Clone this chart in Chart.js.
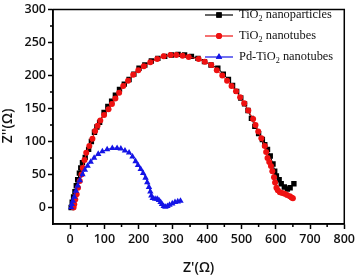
<!DOCTYPE html>
<html><head><meta charset="utf-8">
<script src="https://cdn.jsdelivr.net/npm/chart.js@4/dist/chart.umd.min.js"></script>
<style>html,body{margin:0;padding:0;background:#fff}#wrap{width:358px;height:276px}</style>
</head><body><div id="wrap"><canvas id="c" width="358" height="276"></canvas></div>
<script>
const seriesNames = ["TiO2 nanoparticles", "TiO2 nanotubes", "Pd-TiO2 nanotubes"];
const xTicks = [0,100,200,300,400,500,600,700,800];
const yTicks = [0,50,100,150,200,250,300];
const particlesX = [3,6,10,14,18,22,27,31,36,44,54,62,71,78,86,99,110,121,132,144,158,172,186,201,218,237,256,276,296,315,334,354,373,392,411,431,447,462,474,486,498,509,519,529,539,550,561,568,576,584,592,597,602,610,616,625,634,642,653];
const particlesY = [0,8,16,24,33,42,52,60,68,76,88,100,114,122,129,144,153,161,170,179,187,194,202,211,216,222,226,229,231,232,231,229,226,221,216,211,202,194,185,176,166,157,147,135,123,112,103,95,88,78,66,55,48,42,36,31,28,30,36];
const tubesX = [10,12,15,19,23,28,33,37,42,47,56,65,73,80,88,99,112,122,132,143,155,169,184,199,215,234,254,273,293,310,328,346,375,393,412,428,444,458,471,484,496,508,520,534,541,549,558,568,572,576,581,586,590,595,598,602,606,612,619,626,633,641,646,650];
const tubesY = [0,5,12,20,30,40,50,60,72,83,93,104,116,124,132,140,149,157,165,174,184,192,201,208,214,220,225,229,231,231,230,228,225,221,216,208,200,192,184,176,167,158,147,134,125,115,105,93,84,75,69,63,55,46,38,30,26,23,22,21,19,17,15,14];
const pdX = [3,5,8,12,17,22,28,36,43,51,60,70,82,94,108,123,137,148,160,172,182,191,198,206,213,220,225,230,234,237,241,248,254,259,264,268,273,278,284,290,298,306,314,322];
const pdY = [0,5,10,16,25,33,41,50,57,63,69,75,81,85,88,90,90,89,86,83,77,70,64,58,52,45,38,31,24,18,14,13,13,11,8,5,2,1,2,4,6,8,9,10];

const pts = (xs, ys) => xs.map((x, i) => ({x: x, y: ys[i]}));
const colors = ['#000000', '#ee1111', '#1414e6'];
const styles = ['rect', 'circle', 'triangle'];
const radii = [3.8, 3.0, 3.7];

const frameAndTicks = {
  id: 'frameAndTicks',
  afterDatasetsDraw(chart) {
    const {ctx, chartArea: a, scales: {x, y}} = chart;
    ctx.save();
    ctx.strokeStyle = '#000';
    ctx.lineWidth = 1.5;
    ctx.beginPath();
    for (let i = 0; i < xTicks.length - 1; i++) {
      const px = x.getPixelForValue((xTicks[i] + xTicks[i+1]) / 2);
      ctx.moveTo(px, a.bottom); ctx.lineTo(px, a.bottom + 3);
    }
    for (let i = 0; i < yTicks.length - 1; i++) {
      const py = y.getPixelForValue((yTicks[i] + yTicks[i+1]) / 2);
      ctx.moveTo(a.left, py); ctx.lineTo(a.left - 3, py);
    }
    ctx.stroke();
    ctx.strokeRect(a.left, a.top, a.right - a.left, a.bottom - a.top);
    // y axis title
    ctx.save();
    ctx.translate(8, 126);
    ctx.rotate(-Math.PI / 2);
    ctx.fillStyle = '#111';
    ctx.textAlign = 'center';
    ctx.textBaseline = 'middle';
    ctx.font = '600 14px "Open Sans"';
    ctx.fillText("Z''(Ω)", 0, 0);
    ctx.restore();
    // legend
    const ds = chart.data.datasets;
    const rows = [15, 36, 57];
    const big = 12.4, small = 8.2;
    ds.forEach((d, i) => {
      const yy = rows[i];
      ctx.strokeStyle = d.borderColor;
      ctx.lineWidth = 1.2;
      ctx.beginPath(); ctx.moveTo(205, yy); ctx.lineTo(233, yy); ctx.stroke();
      ctx.fillStyle = d.borderColor;
      Chart.helpers.drawPoint(ctx, {pointStyle: d.pointStyle, radius: d.pointRadius, borderWidth: 0}, 219, yy);
      ctx.fill();
      const name = seriesNames[i];
      const idx = name.indexOf('2');
      const pre = name.slice(0, idx), post = name.slice(idx + 1);
      ctx.fillStyle = '#111';
      ctx.textBaseline = 'middle';
      ctx.textAlign = 'left';
      ctx.font = big + 'px "Liberation Serif"';
      let tx = 239;
      ctx.fillText(pre, tx, yy); tx += ctx.measureText(pre).width;
      ctx.font = small + 'px "Liberation Serif"';
      ctx.fillText('2', tx, yy + 4); tx += ctx.measureText('2').width;
      ctx.font = big + 'px "Liberation Serif"';
      ctx.fillText(post, tx, yy);
    });
    ctx.restore();
  }
};

new Chart(document.getElementById('c'), {
  type: 'scatter',
  data: {
    datasets: [0,1,2].map(i => ({
      label: seriesNames[i],
      data: [pts(particlesX, particlesY), pts(tubesX, tubesY), pts(pdX, pdY)][i],
      showLine: true,
      borderColor: colors[i],
      backgroundColor: colors[i],
      borderWidth: 1,
      pointStyle: styles[i],
      pointRadius: radii[i],
      pointBorderWidth: 0,
      order: 3 - i
    }))
  },
  plugins: [frameAndTicks],
  options: {
    responsive: false,
    animation: false,
    events: [],
    layout: {padding: {top: 6, right: 11, left: 0, bottom: 0}},
    plugins: {legend: {display: false}, tooltip: {enabled: false}},
    scales: {
      x: {
        type: 'linear', min: -50, max: 800,
        afterBuildTicks: s => { s.ticks = xTicks.map(v => ({value: v})); },
        afterFit: s => { s.height = 52; },
        grid: {drawOnChartArea: false, tickLength: 5, tickColor: '#000', tickWidth: 1.5},
        border: {color: '#000', width: 1.5},
        ticks: {color: '#111', padding: 3, maxRotation: 0, font: {family: 'Open Sans', size: 12.5, weight: '600'}},
        title: {display: true, text: "Z'(Ω)", color: '#111', padding: {top: 2, bottom: 0}, font: {family: 'Open Sans', size: 14, weight: '600'}}
      },
      y: {
        type: 'linear', min: -25, max: 300,
        afterBuildTicks: s => { s.ticks = yTicks.map(v => ({value: v})); },
        afterFit: s => { s.width = 53; },
        grid: {drawOnChartArea: false, tickLength: 5, tickColor: '#000', tickWidth: 1.5},
        border: {color: '#000', width: 1.5},
        ticks: {color: '#111', padding: 2, font: {family: 'Open Sans', size: 12.5, weight: '600'}},
        title: {display: false}
      }
    }
  }
});
</script></body></html>
